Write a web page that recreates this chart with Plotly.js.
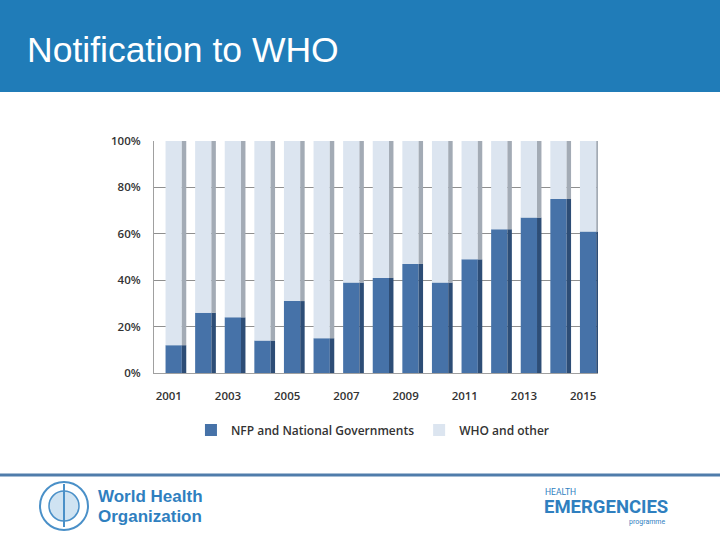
<!DOCTYPE html>
<html>
<head>
<meta charset="utf-8">
<script src="https://cdn.plot.ly/plotly-3.0.1.min.js"></script>
<style>
  html, body { margin: 0; padding: 0; background: #fff; }
  #chart { width: 720px; height: 540px; }
</style>
</head>
<body>
<div id="chart"></div>
<script>
// notifications by source, share of total (%)
const years = [2001, 2002, 2003, 2004, 2005, 2006, 2007, 2008, 2009, 2010, 2011, 2012, 2013, 2014, 2015];
const nfpShare = [12, 26, 24, 14, 31, 15, 39, 41, 47, 39, 49, 62, 67, 75, 61];
const whoShare = [88, 74, 76, 86, 69, 85, 61, 59, 53, 61, 51, 38, 33, 25, 39];
const yTicks = [0, 20, 40, 60, 80, 100];
const yTickText = ["0%", "20%", "40%", "60%", "80%", "100%"];
const xTicks = [2001, 2003, 2005, 2007, 2009, 2011, 2013, 2015];

const front = { offset: -0.11, width: 0.55 };
const side = { offset: 0.44, width: 0.15 };

const data = [
  {
    type: "bar", name: "NFP and National Governments",
    x: years, y: nfpShare, base: 0,
    offset: front.offset, width: front.width,
    marker: { color: "#4672a8" }, hoverinfo: "x+y"
  },
  {
    type: "bar", name: "WHO and other",
    x: years, y: whoShare, base: nfpShare,
    offset: front.offset, width: front.width,
    marker: { color: "#dce5f0" }, hoverinfo: "x+y"
  },
  // darker side faces for the 3D look
  {
    type: "bar", showlegend: false, hoverinfo: "skip",
    x: years, y: nfpShare, base: 0,
    offset: side.offset, width: side.width,
    marker: { color: "#2d4d76" }
  },
  {
    type: "bar", showlegend: false, hoverinfo: "skip",
    x: years, y: whoShare, base: nfpShare,
    offset: side.offset, width: side.width,
    marker: { color: "#a3abb5" }
  }
];

// pixel -> paper helpers (plot area 154..598 x, 141..373 y)
const px = v => (v - 154) / 444;
const py = v => (373 - v) / 232;

const logoFont = (family, size, weight) => ({
  family: family, size: size, weight: weight, color: "#2f7fbf"
});

const layout = {
  width: 720, height: 540,
  margin: { l: 154, r: 122, t: 141, b: 167 },
  paper_bgcolor: "#ffffff",
  plot_bgcolor: "#ffffff",
  barmode: "overlay",
  font: { family: "Open Sans, Liberation Sans, sans-serif", color: "#333333" },
  xaxis: {
    range: [2000.5, 2015.5],
    tickvals: xTicks,
    ticktext: xTicks.map(String),
    showgrid: false, zeroline: false,
    showline: true, linecolor: "#a0a0a0", linewidth: 1,
    ticks: "", ticklabelstandoff: 12,
    tickfont: { size: 11.5, weight: 600, color: "#333333" }
  },
  yaxis: {
    range: [0, 100],
    tickvals: yTicks,
    ticktext: yTickText,
    showgrid: true, gridcolor: "#8f8f8f", gridwidth: 1,
    zeroline: false,
    showline: true, linecolor: "#a0a0a0", linewidth: 1,
    ticks: "", ticklabelstandoff: 10,
    tickfont: { size: 11.5, weight: 600, color: "#333333" }
  },
  showlegend: true,
  legend: {
    orientation: "h",
    xref: "container", yref: "container",
    x: 0.518, y: 1 - 430 / 540,
    xanchor: "center", yanchor: "middle",
    traceorder: "normal",
    font: { size: 12, weight: 600, color: "#333333" },
    itemwidth: 30
  },
  shapes: [
    // header band
    { type: "rect", xref: "paper", yref: "paper", layer: "below",
      x0: px(-5), x1: px(725), y0: py(92), y1: py(-5),
      fillcolor: "#207cb8", line: { width: 0 } },
    // footer rule
    { type: "line", xref: "paper", yref: "paper",
      x0: px(0), x1: px(720), y0: py(475), y1: py(475),
      line: { color: "#4f7cab", width: 3 } },
    // WHO emblem (simplified)
    { type: "circle", xref: "paper", yref: "paper",
      x0: px(40), x1: px(88), y0: py(530), y1: py(482),
      fillcolor: "rgba(0,0,0,0)", line: { color: "#4a90c8", width: 2 } },
    { type: "circle", xref: "paper", yref: "paper",
      x0: px(49), x1: px(79), y0: py(521), y1: py(491),
      fillcolor: "#cfe3f2", line: { color: "#4a90c8", width: 1.5 } },
    { type: "line", xref: "paper", yref: "paper",
      x0: px(64), x1: px(64), y0: py(527), y1: py(484),
      line: { color: "#4a90c8", width: 2 } }
  ],
  annotations: [
    { text: "Notification to WHO", xref: "paper", yref: "paper",
      x: px(25), y: py(50), xanchor: "left", yanchor: "middle",
      showarrow: false,
      font: { family: "Liberation Sans, Arial, sans-serif", size: 35.5, color: "#ffffff" } },
    { text: "World Health", xref: "paper", yref: "paper",
      x: px(96), y: py(497), xanchor: "left", yanchor: "middle",
      showarrow: false, font: logoFont("Liberation Sans, Arial, sans-serif", 17, 700) },
    { text: "Organization", xref: "paper", yref: "paper",
      x: px(96), y: py(516), xanchor: "left", yanchor: "middle",
      showarrow: false, font: logoFont("Liberation Sans, Arial, sans-serif", 17, 700) },
    { text: "HEALTH", xref: "paper", yref: "paper",
      x: px(543), y: py(492), xanchor: "left", yanchor: "middle",
      showarrow: false, font: logoFont("Roboto, sans-serif", 8.5, 400) },
    { text: "EMERGENCIES", xref: "paper", yref: "paper",
      x: px(542), y: py(507), xanchor: "left", yanchor: "middle",
      showarrow: false, font: logoFont("Roboto, sans-serif", 18.5, 700) },
    { text: "programme", xref: "paper", yref: "paper",
      x: px(667), y: py(522), xanchor: "right", yanchor: "middle",
      showarrow: false, font: logoFont("Roboto, sans-serif", 7, 400) }
  ]
};

Plotly.newPlot("chart", data, layout, { displayModeBar: false, staticPlot: true });
</script>
</body>
</html>
